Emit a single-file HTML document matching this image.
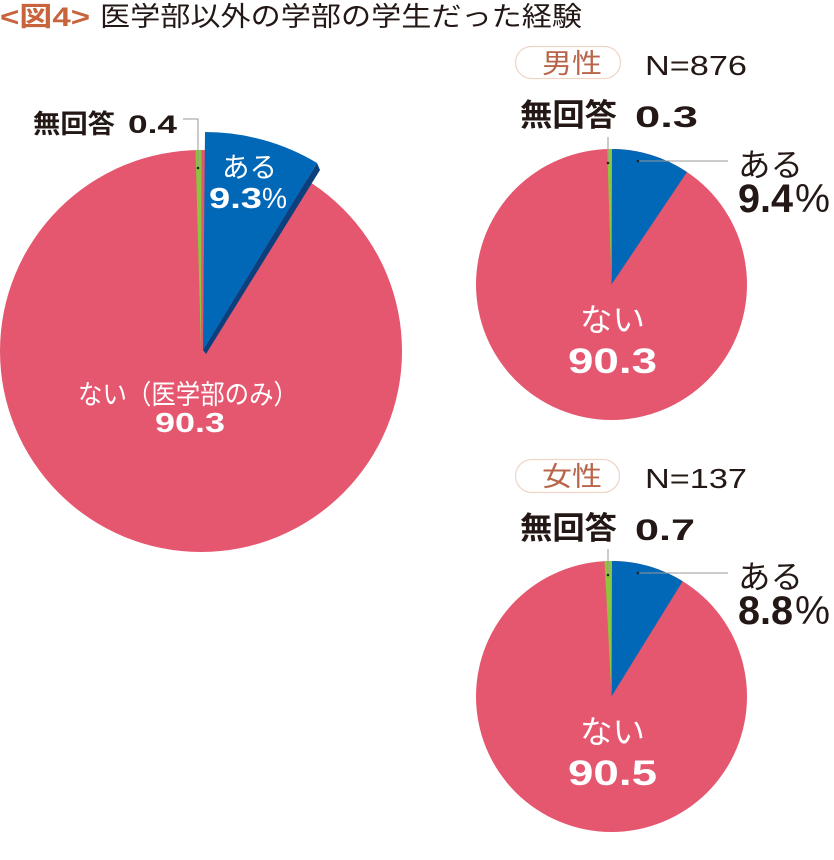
<!DOCTYPE html>
<html><head><meta charset="utf-8"><style>
html,body{margin:0;padding:0;background:#fff;}
svg{display:block;}
text{font-family:"Liberation Sans","Noto Sans CJK JP",sans-serif;}
</style></head><body>
<svg width="834" height="860" viewBox="0 0 834 860" xmlns="http://www.w3.org/2000/svg">
<!-- Title -->
<text x="0" y="26" font-size="27" font-weight="700" fill="#c8643c" textLength="90" lengthAdjust="spacingAndGlyphs">&lt;図4&gt;</text>
<text x="100" y="26" font-size="27" fill="#231815" textLength="482" lengthAdjust="spacingAndGlyphs">医学部以外の学部の学生だった経験</text>

<!-- Main pie -->
<circle cx="201" cy="351" r="201" fill="#e5566f"/>
<path d="M201 351 L195.5 150.06 A201 201 0 0 1 201.5 150 Z" fill="#8cc63e"/>
<polygon points="317,163 320,170 206,354 203,350" fill="#0b3f7e"/>
<path d="M203 350 L205 132 A218 218 0 0 1 317 163 Z" fill="#0068b7"/>
<polyline points="183,119 198,119 198,168" fill="none" stroke="#999" stroke-width="1"/>
<circle cx="198" cy="168" r="1.3" fill="#222"/>
<text x="33" y="133" font-size="26" font-weight="700" fill="#231815" textLength="82" lengthAdjust="spacingAndGlyphs">無回答</text>
<text x="128" y="133" font-size="25" font-weight="700" fill="#231815" textLength="49" lengthAdjust="spacingAndGlyphs">0.4</text>
<text x="222" y="177" font-size="28" fill="#fff" textLength="55" lengthAdjust="spacingAndGlyphs">ある</text>
<text x="209" y="208" font-size="29" font-weight="700" fill="#fff" textLength="53" lengthAdjust="spacingAndGlyphs">9.3</text>
<text x="262" y="208" font-size="29" fill="#fff" textLength="25" lengthAdjust="spacingAndGlyphs">%</text>
<text x="78" y="404" font-size="27" fill="#fff" textLength="220" lengthAdjust="spacingAndGlyphs">ない（医学部のみ）</text>
<text x="155" y="432" font-size="28" font-weight="700" fill="#fff" textLength="70" lengthAdjust="spacingAndGlyphs">90.3</text>

<!-- Male -->
<rect x="515.5" y="46.5" width="105" height="32" rx="16" ry="16" fill="#fff" stroke="#efd4c7" stroke-width="1.2"/>
<text x="542" y="73" font-size="27" fill="#b9654a" textLength="60" lengthAdjust="spacingAndGlyphs">男性</text>
<text x="645" y="75" font-size="28" fill="#231815" textLength="102" lengthAdjust="spacingAndGlyphs">N=876</text>
<text x="520" y="126" font-size="31" font-weight="700" fill="#231815" textLength="97" lengthAdjust="spacingAndGlyphs">無回答</text>
<text x="635" y="127" font-size="30" font-weight="700" fill="#231815" textLength="63" lengthAdjust="spacingAndGlyphs">0.3</text>
<circle cx="611.5" cy="284.5" r="135.5" fill="#e5566f"/>
<path d="M611.5 284.5 L611.5 149 A135.5 135.5 0 0 1 686.96 172 Z" fill="#0068b7"/>
<path d="M611.5 284.5 L607.2 149.1 A135.5 135.5 0 0 1 612 149 Z" fill="#8cc63e"/>
<line x1="608" y1="137" x2="608" y2="163" stroke="#999" stroke-width="1"/>
<circle cx="608" cy="163" r="1.3" fill="#222"/>
<line x1="638" y1="161" x2="728" y2="161" stroke="#999" stroke-width="1"/>
<circle cx="638" cy="161" r="1.3" fill="#222"/>
<text x="738" y="176" font-size="32" fill="#231815" textLength="65" lengthAdjust="spacingAndGlyphs">ある</text>
<text x="738" y="212" font-size="40" font-weight="700" fill="#231815" textLength="55" lengthAdjust="spacingAndGlyphs">9.4</text>
<text x="795" y="212" font-size="40" fill="#231815" textLength="35" lengthAdjust="spacingAndGlyphs">%</text>
<text x="580" y="331" font-size="32" fill="#fff" textLength="65" lengthAdjust="spacingAndGlyphs">ない</text>
<text x="568" y="373" font-size="35" font-weight="700" fill="#fff" textLength="89" lengthAdjust="spacingAndGlyphs">90.3</text>

<!-- Female -->
<rect x="515.5" y="459.5" width="104" height="33" rx="16.5" ry="16.5" fill="#fff" stroke="#efd4c7" stroke-width="1.2"/>
<text x="542" y="486" font-size="27" fill="#b9654a" textLength="60" lengthAdjust="spacingAndGlyphs">女性</text>
<text x="645" y="488" font-size="28" fill="#231815" textLength="102" lengthAdjust="spacingAndGlyphs">N=137</text>
<text x="520" y="539" font-size="31" font-weight="700" fill="#231815" textLength="97" lengthAdjust="spacingAndGlyphs">無回答</text>
<text x="635" y="540" font-size="30" font-weight="700" fill="#231815" textLength="60" lengthAdjust="spacingAndGlyphs">0.7</text>
<circle cx="611.5" cy="696.5" r="135.5" fill="#e5566f"/>
<path d="M611.5 696.5 L611.5 561 A135.5 135.5 0 0 1 682.66 581.19 Z" fill="#0068b7"/>
<path d="M611.5 696.5 L604.5 561.2 A135.5 135.5 0 0 1 612 561 Z" fill="#8cc63e"/>
<line x1="608" y1="549" x2="608" y2="575" stroke="#999" stroke-width="1"/>
<circle cx="608" cy="575" r="1.3" fill="#222"/>
<line x1="638" y1="573" x2="728" y2="573" stroke="#999" stroke-width="1"/>
<circle cx="638" cy="573" r="1.3" fill="#222"/>
<text x="738" y="588" font-size="32" fill="#231815" textLength="65" lengthAdjust="spacingAndGlyphs">ある</text>
<text x="738" y="624" font-size="40" font-weight="700" fill="#231815" textLength="55" lengthAdjust="spacingAndGlyphs">8.8</text>
<text x="795" y="624" font-size="40" fill="#231815" textLength="35" lengthAdjust="spacingAndGlyphs">%</text>
<text x="580" y="743" font-size="32" fill="#fff" textLength="65" lengthAdjust="spacingAndGlyphs">ない</text>
<text x="568" y="785" font-size="35" font-weight="700" fill="#fff" textLength="89" lengthAdjust="spacingAndGlyphs">90.5</text>
</svg>
</body></html>
